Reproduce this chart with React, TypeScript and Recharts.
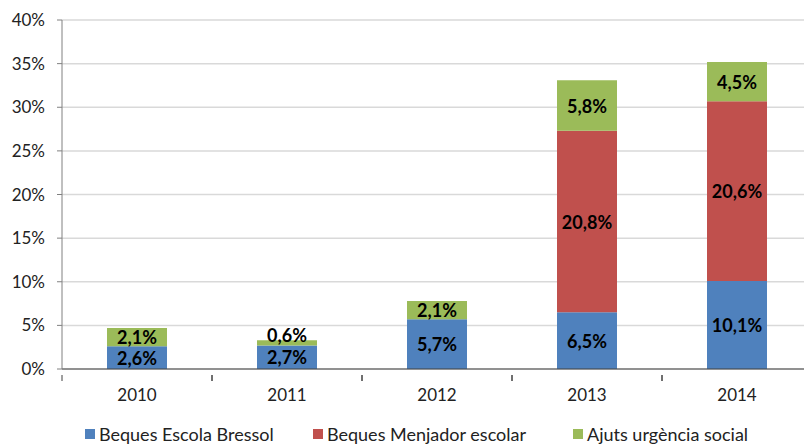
import React from 'react';
import { BarChart, Bar, XAxis, YAxis, CartesianGrid, Legend, LabelList } from 'recharts';

const years = ['2010', '2011', '2012', '2013', '2014'];
const bressol = [2.6, 2.7, 5.7, 6.5, 10.1];
const menjador = [null, null, null, 20.8, 20.6];
const urgencia = [2.1, 0.6, 2.1, 5.8, 4.5];
const yTicks = [0, 5, 10, 15, 20, 25, 30, 35, 40];
const seriesNames = ['Beques Escola Bressol', 'Beques Menjador escolar', 'Ajuts urgència social'];
const seriesColors = ['#4F81BD', '#C0504D', '#9BBB59'];

const data = years.map((y, i) => ({
  year: y,
  bressol: bressol[i],
  menjador: menjador[i],
  urgencia: urgencia[i],
}));

const FONT = 'Lato, "Open Sans", sans-serif';

const fmt = (v: any) => (v == null || v === 0 ? '' : String(v.toFixed(1)).replace('.', ',') + '%');

const SegLabel = (props: any) => {
  const { x, y, width, height, value } = props;
  const t = fmt(value);
  if (!t) return null;
  const cx = x + width / 2;
  let cy = y + height / 2;
  if (height < 14) cy = y - 5;
  return (
    <text x={cx} y={cy} textAnchor="middle" dominantBaseline="central" fill="#000" fontWeight={700} fontSize={18} fontFamily={FONT}>
      {t}
    </text>
  );
};

const XTick = (props: any) => {
  const { x, y, payload } = props;
  const half = payload && payload.offset ? payload.offset : 75;
  return (
    <g>
      <line x1={x - half} x2={x - half} y1={y - 13} y2={y - 7} stroke="#404040" />
      <line x1={x + half} x2={x + half} y1={y - 13} y2={y - 7} stroke="#404040" />
      <text x={x} y={y} dy={13} textAnchor="middle" fill="#222" fontSize={17} fontFamily={FONT}>
        {payload.value}
      </text>
    </g>
  );
};

const legendLefts = [85, 313, 573];

const LegendContent = () => (
  <div style={{ position: 'relative', height: 38, fontFamily: FONT, fontSize: 18, lineHeight: '18px', color: '#222' }}>
    {seriesNames.map((n, i) => (
      <div key={n} style={{ position: 'absolute', left: legendLefts[i], top: 19, display: 'flex', alignItems: 'center', whiteSpace: 'nowrap' }}>
        <span style={{ display: 'inline-block', width: 10, height: 10, background: seriesColors[i], marginRight: 4 }} />
        <span>{n}</span>
      </div>
    ))}
  </div>
);

export default function App() {
  return (
    <div style={{ position: 'absolute', left: 0, top: 0, width: 804, height: 444, overflow: 'hidden', background: '#fff' }}>
      <BarChart width={812} height={444} data={data} margin={{ top: 20, right: 0, left: 0, bottom: 0 }} barCategoryGap={45}>
        <CartesianGrid vertical={false} stroke="#D9D9D9" strokeWidth={1.5} />
        <XAxis
          dataKey="year"
          height={37}
          tickLine={false}
          axisLine={{ stroke: '#404040' }}
          tick={<XTick />}
          tickMargin={13}
        />
        <YAxis
          width={62}
          domain={[0, 40]}
          ticks={yTicks}
          tickFormatter={(v: number) => v + '%'}
          tick={{ fill: '#222', fontSize: 17, fontFamily: FONT }}
          axisLine={{ stroke: '#808080' }}
          tickLine={{ stroke: '#808080' }}
          tickSize={5}
          tickMargin={12}
          interval={0}
        />
        <Legend verticalAlign="bottom" height={38} content={<LegendContent />} />
        <Bar dataKey="bressol" name={seriesNames[0]} stackId="a" fill={seriesColors[0]} isAnimationActive={false}>
          <LabelList dataKey="bressol" content={<SegLabel />} />
        </Bar>
        <Bar dataKey="menjador" name={seriesNames[1]} stackId="a" fill={seriesColors[1]} isAnimationActive={false}>
          <LabelList dataKey="menjador" content={<SegLabel />} />
        </Bar>
        <Bar dataKey="urgencia" name={seriesNames[2]} stackId="a" fill={seriesColors[2]} isAnimationActive={false}>
          <LabelList dataKey="urgencia" content={<SegLabel />} />
        </Bar>
      </BarChart>
    </div>
  );
}
